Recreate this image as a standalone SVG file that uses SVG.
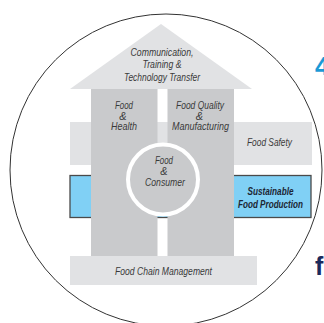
<svg xmlns="http://www.w3.org/2000/svg" width="324" height="323" viewBox="0 0 324 323">
  <style>
    .lt { fill: #e1e2e4; }
    .dk { fill: #c9cacc; }
    .t { font-family: "Liberation Sans", Arial, sans-serif; font-style: italic; font-size: 11px; fill: #3a3a3a; text-anchor: middle; }
    .tb { font-weight: bold; fill: #1c2533; font-size: 11px; }
  </style>
  <rect width="324" height="323" fill="#ffffff"/>
  <circle id="outer-circle" cx="166" cy="170" r="156" fill="none" stroke="#333333" stroke-width="1"/>

  <g id="food-safety">
    <rect class="lt" x="70" y="122" width="242" height="43"/>
    <text class="t" x="269.5" y="146" textLength="45" lengthAdjust="spacingAndGlyphs">Food Safety</text>
  </g>
  <g id="sustainable-food-production">
    <rect x="70" y="175.5" width="241" height="42" fill="#80d0f5" stroke="#4a4a4a" stroke-width="1.3"/>
    <text class="t tb" x="270.5" y="195" textLength="46" lengthAdjust="spacingAndGlyphs">Sustainable</text>
    <text class="t tb" x="270.5" y="207.5" textLength="65" lengthAdjust="spacingAndGlyphs">Food Production</text>
  </g>
  <g id="roof">
    <polygon class="lt" points="70,89 161,24 252,89"/>
    <text class="t" x="162" y="55.5" textLength="63" lengthAdjust="spacingAndGlyphs">Communication,</text>
    <text class="t" x="162" y="68" textLength="39" lengthAdjust="spacingAndGlyphs">Training &amp;</text>
    <text class="t" x="162" y="80.5" textLength="76" lengthAdjust="spacingAndGlyphs">Technology Transfer</text>
  </g>
  <g id="food-health">
    <rect class="dk" x="91" y="89" width="66.5" height="167"/>
    <text class="t" x="124" y="109" textLength="18" lengthAdjust="spacingAndGlyphs">Food</text>
    <text class="t" x="123" y="119.5">&amp;</text>
    <text class="t" x="124" y="130" textLength="26" lengthAdjust="spacingAndGlyphs">Health</text>
  </g>
  <g id="food-quality">
    <rect class="dk" x="167.5" y="89" width="66.5" height="167"/>
    <text class="t" x="200" y="109" textLength="48" lengthAdjust="spacingAndGlyphs">Food Quality</text>
    <text class="t" x="199.5" y="119.5">&amp;</text>
    <text class="t" x="200.5" y="130" textLength="57" lengthAdjust="spacingAndGlyphs">Manufacturing</text>
  </g>
  <g id="food-chain-management">
    <rect class="lt" x="70" y="256" width="187" height="29"/>
    <text class="t" x="163.5" y="275" textLength="97" lengthAdjust="spacingAndGlyphs">Food Chain Management</text>
  </g>
  <g id="food-consumer">
    <circle class="dk" cx="163" cy="179.5" r="35" stroke="#ffffff" stroke-width="4"/>
    <text class="t" x="164" y="163.5" textLength="18" lengthAdjust="spacingAndGlyphs">Food</text>
    <text class="t" x="164" y="174.5">&amp;</text>
    <text class="t" x="165" y="185.5" textLength="40" lengthAdjust="spacingAndGlyphs">Consumer</text>
  </g>

  <text x="315" y="75" font-family="Liberation Sans, sans-serif" font-weight="bold" font-size="26" fill="#1a9ad6">4</text>
  <text x="315" y="275" font-family="Liberation Sans, sans-serif" font-weight="bold" font-size="25" fill="#1b2a5c">f</text>
</svg>
